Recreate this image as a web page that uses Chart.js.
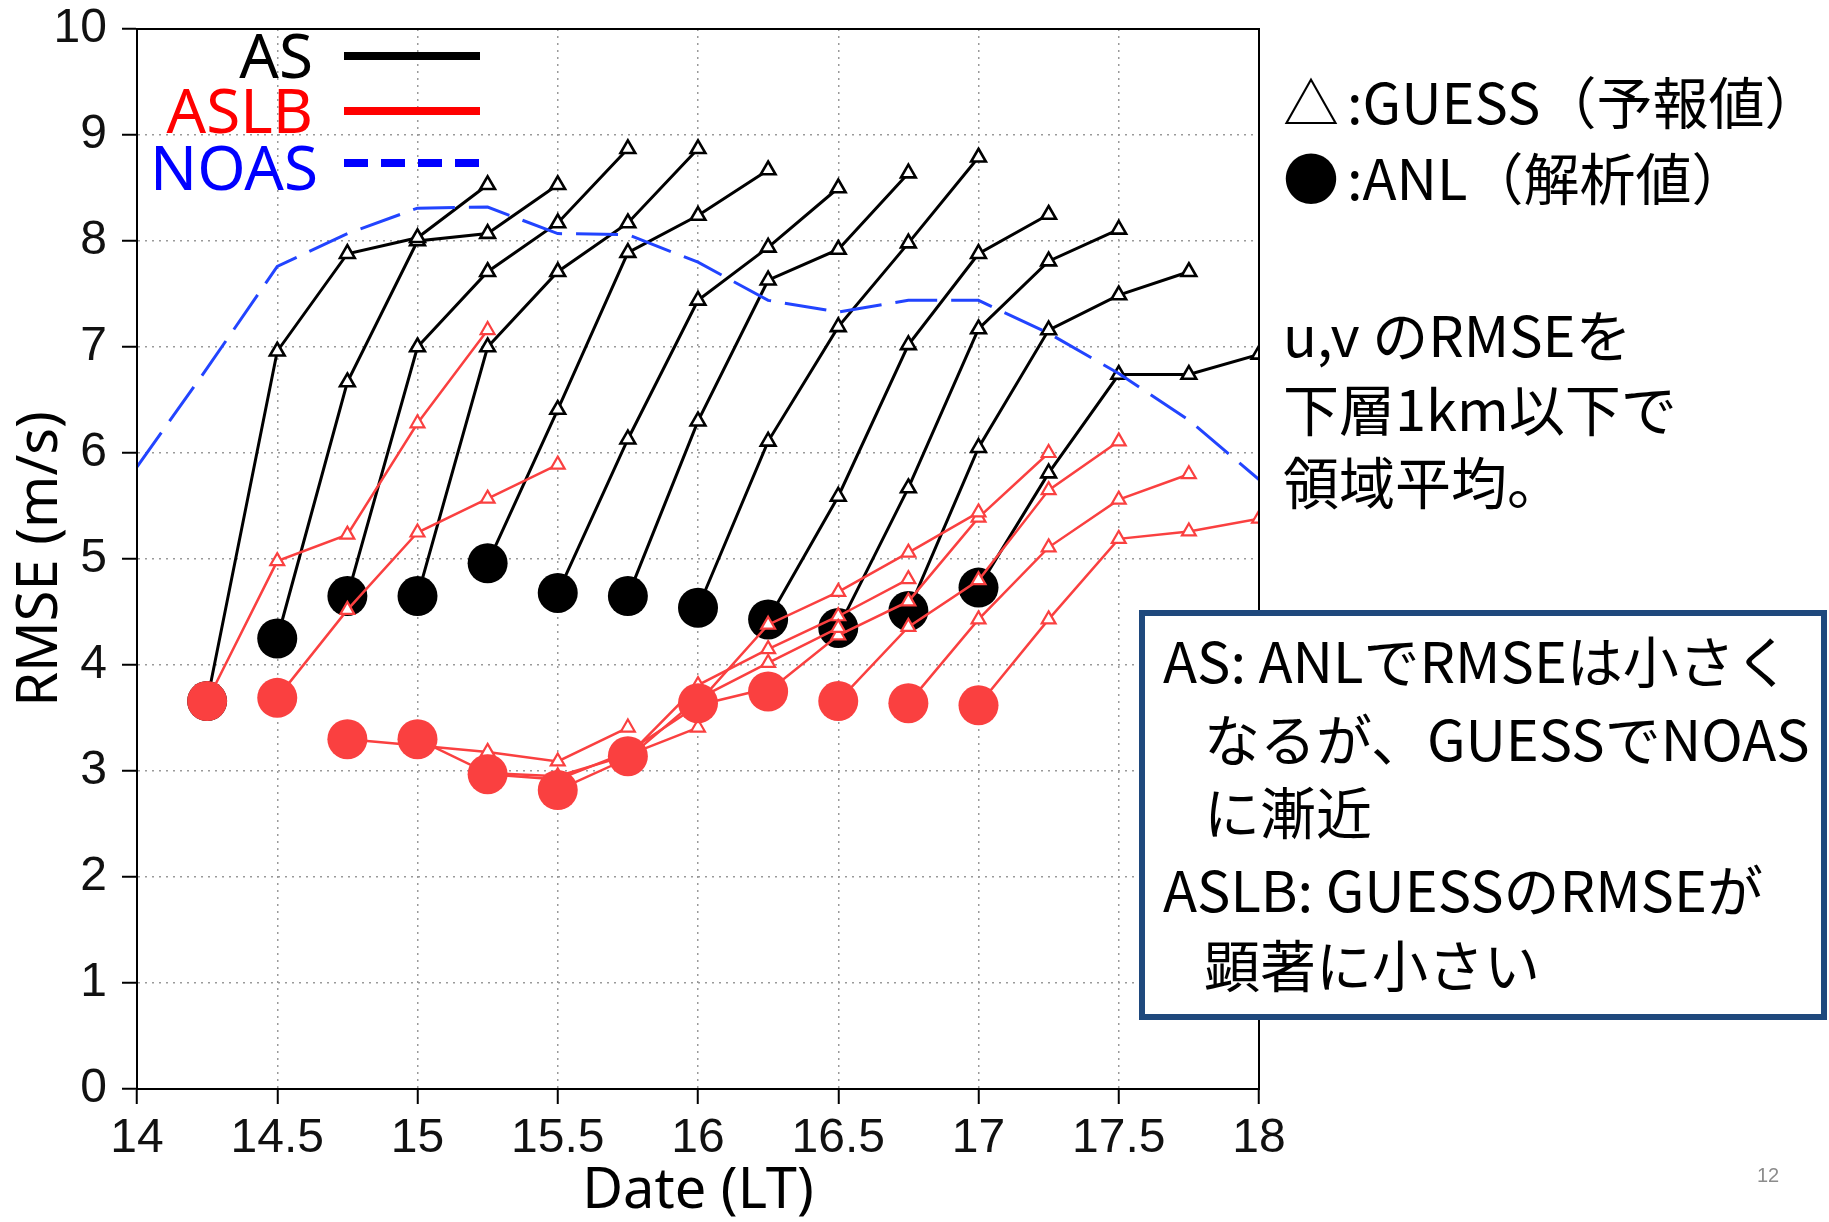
<!DOCTYPE html>
<html><head><meta charset="utf-8">
<script src="https://cdn.jsdelivr.net/npm/chart.js@4.4.1/dist/chart.umd.min.js"></script>
<style>
html,body{margin:0;padding:0;background:#fff;}
#wrap{position:relative;width:1829px;height:1222px;overflow:hidden;background:#fff;}
canvas{position:absolute;left:0;top:0;}
.t{position:absolute;white-space:nowrap;line-height:1;}
.leg{font-family:'Noto Sans',sans-serif;font-size:62px;text-align:right;}
.jp{font-family:'Noto Sans CJK JP',sans-serif;color:#000;}
.ann{font-size:56px;}
.bx{font-size:56px;}
#box{position:absolute;left:1139px;top:610px;width:688px;height:410px;box-sizing:border-box;border:6px solid #1f497d;background:#fff;}
</style></head><body>
<div id="wrap">
<canvas id="c" width="1829" height="1222"></canvas>

<div class="t leg" style="right:1516px;top:23px;color:#000">AS</div>
<div class="t leg" style="right:1516px;top:78px;color:#ff0000">ASLB</div>
<div class="t leg" style="right:1511px;top:135px;color:#0000ff">NOAS</div>
<div style="position:absolute;left:344px;top:52px;width:136px;height:8px;background:#000"></div>
<div style="position:absolute;left:344px;top:107px;width:136px;height:8px;background:#ff0000"></div>
<div style="position:absolute;left:344px;top:159px;width:136px;height:8px;background:repeating-linear-gradient(to right,#0000ff 0 24px,transparent 24px 37px)"></div>

<div class="t jp ann" style="left:1283px;top:72px"><span>△</span><span style="margin-left:8px">:GUESS（予報値）</span></div>
<div class="t jp ann" style="left:1283px;top:148px"><span>●</span><span style="margin-left:8px">:ANL（解析値）</span></div>
<div class="t jp ann" style="left:1283px;top:305px">u,v のRMSEを</div>
<div class="t jp ann" style="left:1283px;top:379px">下層1km以下で</div>
<div class="t jp ann" style="left:1283px;top:452px">領域平均。</div>

<div id="box"></div>
<div class="t jp bx" style="left:1163px;top:631px">AS: ANLでRMSEは小さく</div>
<div class="t jp bx" style="left:1204px;top:709px">なるが、GUESSでNOAS</div>
<div class="t jp bx" style="left:1204px;top:782px">に漸近</div>
<div class="t jp bx" style="left:1163px;top:860px">ASLB: GUESSのRMSEが</div>
<div class="t jp bx" style="left:1204px;top:935px">顕著に小さい</div>

<div class="t" style="left:1757px;top:1165px;font-family:'Liberation Sans',sans-serif;font-size:20px;color:#8c8c8c">12</div>
</div>
<script>
// ---- data ----
const starts = [14.25, 14.5, 14.75, 15.0, 15.25, 15.5, 15.75, 16.0, 16.25, 16.5, 16.75, 17.0];
const leadHours = [0, 0.25, 0.5, 0.75, 1.0];

const asAnl     = [3.66, 4.25, 4.65, 4.65, 4.96, 4.68, 4.65, 4.54, 4.43, 4.35, 4.51, 4.73];
const asGuess15 = [6.96, 6.67, 7.00, 7.00, 6.41, 6.13, 6.30, 6.11, 5.59, 5.67, 6.05, 5.81];
const asGuess30 = [7.88, 8.00, 7.71, 7.71, 7.89, 7.44, 7.63, 7.19, 7.02, 7.17, 7.16, 6.74];
const asGuess45 = [8.03, 8.07, 8.17, 8.17, 8.24, 7.94, 7.92, 7.98, 7.88, 7.81, 7.49, 6.74];
const asGuess60 = [8.53, 8.53, 8.87, 8.87, 8.67, 8.50, 8.64, 8.79, 8.25, 8.11, 7.71, 6.93];

const aslbAnl     = [3.66, 3.69, 3.30, 3.30, 2.97, 2.82, 3.14, 3.64, 3.75, 3.66, 3.64, 3.62];
const aslbGuess15 = [4.98, 4.52, 3.24, 2.98, 2.92, 3.12, 3.81, 4.38, 4.28, 4.36, 4.43, 4.43];
const aslbGuess30 = [5.23, 5.25, 3.18, 2.95, 3.18, 3.68, 4.15, 4.69, 4.60, 4.80, 5.11, 5.19];
const aslbGuess45 = [6.28, 5.57, 3.09, 3.15, 3.62, 4.02, 4.46, 5.06, 5.39, 5.65, 5.56, 5.26];
const aslbGuess60 = [7.16, 5.89, 3.41, 3.41, 3.78, 4.35, 4.81, 5.44, 6.00, 6.11, 5.80, 5.38];

const noasTimes = [14.0, 14.25, 14.5, 14.75, 15.0, 15.25, 15.5, 15.75, 16.0, 16.25, 16.5, 16.75, 17.0, 17.25, 17.5, 17.75, 18.0];
const noas      = [5.87, 6.80, 7.76, 8.07, 8.31, 8.32, 8.07, 8.06, 7.80, 7.44, 7.33, 7.44, 7.44, 7.13, 6.75, 6.31, 5.75];

const xTicksMin = 14, xTicksMax = 18, xStep = 0.5;
const yTicksMin = 0, yTicksMax = 10, yStep = 1;

// ---- build datasets ----
function cycle(i, anl, g15, g30, g45, g60) {
  const ys = [anl[i], g15[i], g30[i], g45[i], g60[i]];
  return ys.map((y, k) => ({x: starts[i] + leadHours[k], y: y}));
}
const RED = '#fa4040';
const datasets = [];
// lower "order" = drawn on top
datasets.push({
  label: 'NOAS',
  data: noasTimes.map((x, k) => ({x: x, y: noas[k]})),
  borderColor: '#2244ff', borderWidth: 3, borderDash: [42, 14],
  pointRadius: 0, tension: 0, order: 0, fill: false
});
datasets.push({
  label: 'ASLB ANL',
  data: starts.map((x, i) => ({x: x, y: aslbAnl[i]})),
  showLine: false, pointStyle: 'circle', pointRadius: 20, pointBorderWidth: 0,
  pointBackgroundColor: RED, pointBorderColor: RED, order: 1
});
starts.forEach((s, i) => {
  datasets.push({
    label: 'ASLB',
    data: cycle(i, aslbAnl, aslbGuess15, aslbGuess30, aslbGuess45, aslbGuess60),
    borderColor: RED, borderWidth: 2.5, tension: 0, fill: false, order: 2,
    pointStyle: 'triangle',
    pointRadius: [0, 8, 8, 8, 8],
    pointBackgroundColor: '#fff',
    pointBorderColor: RED,
    pointBorderWidth: [0, 2.2, 2.2, 2.2, 2.2]
  });
});
datasets.push({
  label: 'AS ANL',
  data: starts.map((x, i) => ({x: x, y: asAnl[i]})),
  showLine: false, pointStyle: 'circle', pointRadius: 20, pointBorderWidth: 0,
  pointBackgroundColor: '#000', pointBorderColor: '#000', order: 3
});
starts.forEach((s, i) => {
  datasets.push({
    label: 'AS',
    data: cycle(i, asAnl, asGuess15, asGuess30, asGuess45, asGuess60),
    borderColor: '#000', borderWidth: 3, tension: 0, fill: false, order: 4,
    pointStyle: 'triangle',
    pointRadius: [0, 8.5, 8.5, 8.5, 8.5],
    pointBackgroundColor: '#fff',
    pointBorderColor: '#000',
    pointBorderWidth: [0, 2.6, 2.6, 2.6, 2.6]
  });
});

const framePlugin = {
  id: 'frame',
  afterDraw(chart) {
    const {ctx, chartArea: a} = chart;
    ctx.save();
    ctx.strokeStyle = '#000';
    ctx.lineWidth = 2;
    ctx.strokeRect(a.left, a.top, a.right - a.left, a.bottom - a.top);
    ctx.restore();
  }
};

const xTickFont = {family: "'Liberation Sans', sans-serif", size: 48};
const yTickFont = {family: "'Liberation Sans', sans-serif", size: 48, lineHeight: 0.5};
new Chart(document.getElementById('c').getContext('2d'), {
  type: 'line',
  data: {datasets: datasets},
  options: {
    responsive: false, animation: false, devicePixelRatio: 1, events: [],
    layout: {padding: {left: 0, right: 570, top: 29, bottom: 0}},
    plugins: {legend: {display: false}, tooltip: {enabled: false}},
    scales: {
      x: {
        type: 'linear', position: 'bottom', min: xTicksMin, max: xTicksMax,
        ticks: {stepSize: xStep, font: xTickFont, color: '#111', padding: 6, maxRotation: 0, autoSkip: false,
                callback: v => String(v)},
        grid: {color: '#9a9a9a', lineWidth: 1.5, tickLength: 15, tickColor: '#000', tickWidth: 2, borderDash: [2, 5]},
        border: {display: true, color: '#000', width: 2, dash: [2, 5]},
        title: {display: true, text: 'Date (LT)', color: '#000',
                font: {family: "'Noto Sans', sans-serif", size: 56, lineHeight: 1}, padding: {top: 0, bottom: 2}},
        afterFit(s) { s.height = 133; }
      },
      y: {
        type: 'linear', position: 'left', min: yTicksMin, max: yTicksMax,
        ticks: {stepSize: yStep, font: yTickFont, color: '#111', padding: 15, callback: v => String(v)},
        grid: {color: '#9a9a9a', lineWidth: 1.5, tickLength: 15, tickColor: '#000', tickWidth: 2, borderDash: [2, 5]},
        border: {display: true, color: '#000', width: 2, dash: [2, 5]},
        title: {display: true, text: 'RMSE (m/s)', color: '#000',
                font: {family: "'Noto Sans', sans-serif", size: 56, lineHeight: 1}, padding: {top: 13, bottom: 0}},
        afterFit(s) { s.width = 137; }
      }
    }
  },
  plugins: [framePlugin]
});
</script>
</body></html>
